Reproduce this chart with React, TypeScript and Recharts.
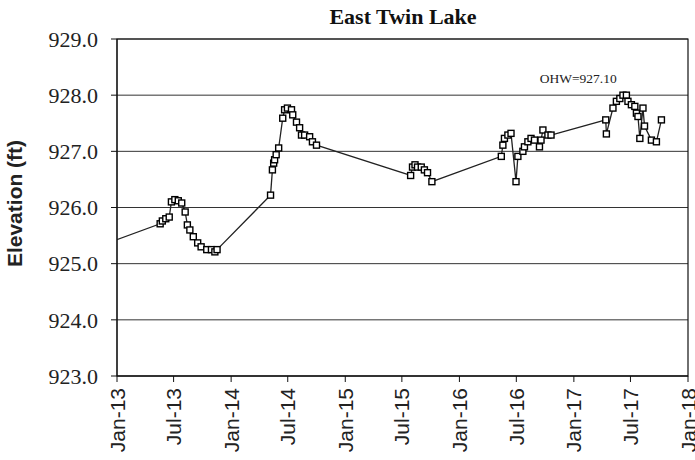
import React from 'react';
import { LineChart, Line, XAxis, YAxis, CartesianGrid, ReferenceArea, ReferenceDot } from 'recharts';

const sampleDates = [
  '2012-09-01',
  '2013-05-19', '2013-05-26', '2013-06-06', '2013-06-17', '2013-06-24', '2013-07-05', '2013-07-16', '2013-07-27',
  '2013-08-07', '2013-08-14', '2013-08-22', '2013-09-02', '2013-09-16', '2013-09-27', '2013-10-15', '2013-10-30',
  '2013-11-10', '2013-11-17',
  '2014-05-07', '2014-05-13', '2014-05-17', '2014-05-20', '2014-05-25', '2014-06-02', '2014-06-15', '2014-06-21',
  '2014-06-30', '2014-07-13', '2014-07-17', '2014-07-29', '2014-08-08', '2014-08-14', '2014-08-24', '2014-09-09',
  '2014-09-18', '2014-10-01',
  '2015-07-29', '2015-08-04', '2015-08-12', '2015-08-20', '2015-09-01', '2015-09-11', '2015-09-21', '2015-10-05',
  '2016-05-14', '2016-05-19', '2016-05-24', '2016-06-04', '2016-06-14', '2016-06-30', '2016-07-06', '2016-07-22',
  '2016-07-27', '2016-08-07', '2016-08-17', '2016-08-28', '2016-09-13', '2016-09-18', '2016-09-24', '2016-10-10',
  '2016-10-20',
  '2017-04-13', '2017-04-15', '2017-05-06', '2017-05-17', '2017-05-28', '2017-06-07', '2017-06-18', '2017-06-23',
  '2017-07-04', '2017-07-15', '2017-07-20', '2017-07-25', '2017-07-31', '2017-08-10', '2017-08-15', '2017-09-06',
  '2017-09-22', '2017-10-08',
];

const elevations = [
  925.18,
  925.71, 925.76, 925.80, 925.83, 926.10, 926.14, 926.12, 926.08,
  925.92, 925.69, 925.60, 925.48, 925.37, 925.30, 925.25, 925.25,
  925.21, 925.25,
  926.22, 926.67, 926.79, 926.85, 926.94, 927.06, 927.59, 927.74,
  927.77, 927.74, 927.65, 927.52, 927.42, 927.29, 927.29, 927.26,
  927.17, 927.11,
  926.57, 926.72, 926.76, 926.72, 926.72, 926.67, 926.62, 926.46,
  926.91, 927.11, 927.23, 927.29, 927.32, 926.46, 926.91, 927.00,
  927.08, 927.17, 927.23, 927.20, 927.08, 927.20, 927.38, 927.29,
  927.29,
  927.56, 927.31, 927.77, 927.89, 927.94, 928.00, 928.00, 927.89,
  927.83, 927.80, 927.68, 927.62, 927.23, 927.77, 927.45, 927.20,
  927.17, 927.56,
];

const tickDates = [
  '2013-01-01', '2013-07-01', '2014-01-01', '2014-07-01', '2015-01-01', '2015-07-01',
  '2016-01-01', '2016-07-01', '2017-01-01', '2017-07-01', '2018-01-01',
];
const tickLabels = ['Jan-13', 'Jul-13', 'Jan-14', 'Jul-14', 'Jan-15', 'Jul-15', 'Jan-16', 'Jul-16', 'Jan-17', 'Jul-17', 'Jan-18'];

const yTicks = [923, 924, 925, 926, 927, 928, 929];

const data = sampleDates.map((d, i) => ({ t: Date.parse(d), elev: elevations[i] }));
const xTicks = tickDates.map(d => Date.parse(d));
const xStart = xTicks[0];
const xEnd = xTicks[xTicks.length - 1];

const SERIF = '"Liberation Serif", "Times New Roman", serif';
const SANS = '"Liberation Sans", Arial, sans-serif';

function SquareDot({ cx, cy }: { cx?: number; cy?: number }) {
  if (cx == null || cy == null) return null;
  return <rect x={cx - 3} y={cy - 3} width={6} height={6} fill="#fff" stroke="#000" strokeWidth={1.4} />;
}

function DateTick({ x, y, payload }: { x?: number; y?: number; payload?: { value: number } }) {
  const idx = xTicks.indexOf(payload?.value ?? -1);
  return (
    <text transform={`translate(${x},${(y ?? 0) + 4}) rotate(-90)`} textAnchor="end" dominantBaseline="central"
      fontFamily={SANS} fontSize={21} fill="#222">
      {tickLabels[idx] ?? ''}
    </text>
  );
}

export default function App() {
  return (
    <div style={{ position: 'absolute', left: 0, top: 0, width: 695, height: 460, background: '#fff' }}>
      <LineChart width={695} height={460} data={data} margin={{ top: 39, right: 7, bottom: 0, left: 0 }}>
        <text x={403} y={24} textAnchor="middle" fontFamily={SERIF} fontWeight="bold" fontSize={22} fill="#111">East Twin Lake</text>
        <CartesianGrid vertical={false} stroke="#333" strokeWidth={1} />
        <XAxis dataKey="t" type="number" domain={[xStart, xEnd]} ticks={xTicks} allowDataOverflow
          height={84} tick={<DateTick />} tickLine={{ stroke: '#111' }} tickSize={6}
          axisLine={{ stroke: '#111' }} interval={0} />
        <YAxis type="number" domain={[923, 929]} ticks={yTicks} width={117} interval={0}
          tickFormatter={(v: number) => v.toFixed(1)} tickSize={6} tickMargin={13}
          tick={{ fontFamily: SERIF, fontSize: 22, fill: '#222' }} tickLine={{ stroke: '#111' }}
          axisLine={{ stroke: '#111' }}
          label={{ value: 'Elevation (ft)', angle: -90, position: 'insideLeft', dx: 10, dy: -4,
            style: { fontFamily: SANS, fontWeight: 'bold', fontSize: 21, fill: '#222', textAnchor: 'middle' } }} />
        <ReferenceArea x1={xStart} x2={xEnd} y1={923} y2={929} fill="none" stroke="#111" strokeWidth={1.2} />
        <ReferenceDot x={Date.parse('2017-01-15')} y={928.3} r={0} stroke="none"
          label={{ value: 'OHW=927.10', position: 'center', style: { fontFamily: SERIF, fontSize: 13.5, fill: '#222' } }} />
        <Line type="linear" dataKey="elev" stroke="#222" strokeWidth={1.3} dot={<SquareDot />}
          isAnimationActive={false} />
      </LineChart>
    </div>
  );
}
